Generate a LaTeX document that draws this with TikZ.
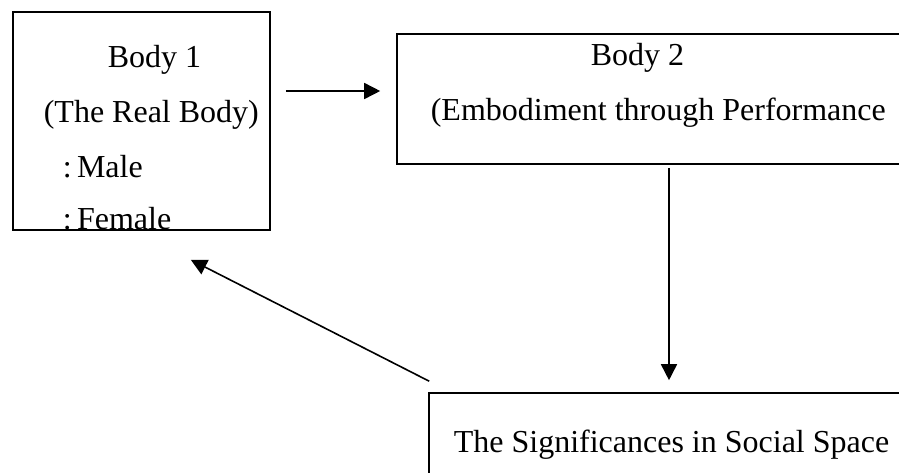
\documentclass[tikz,border=0pt]{standalone}
\usepackage{fontspec}
\setmainfont{Liberation Serif}
\usetikzlibrary{arrows.meta, calc}

\begin{document}
\begin{tikzpicture}[
    x=0.75pt, y=-0.75pt,
    line width=1.2pt,
    box/.style={draw, rectangle, inner sep=0pt},
    txt/.style={anchor=base west, inner sep=0pt, font=\fontsize{24}{28}\selectfont},
    arr/.style={-{Triangle[length=12pt, width=12pt]}}
]
    % Fix the page to the reference size.
    \useasboundingbox (0,0) rectangle (899,472);
    \clip (0,0) rectangle (899,472);

    % The three boxes (the right ones run off the page).
    \node[box, minimum width=192.75pt, minimum height=163.5pt] (body1) at (141.5,121) {};
    \node[box, minimum width=381pt, minimum height=97.5pt] (body2) at (651,99) {};
    \node[box, minimum width=357pt, minimum height=65.25pt] (space) at (667,436.5) {};

    % Texts of the boxes.
    \node[txt] (b1title) at (107,67) {Body 1};
    \node[txt] (b1sub) at (43,122) {(The Real Body)};
    \node[txt] (b1male) at (62,177) {:\,Male};
    \node[txt] (b1female) at (62,229) {:\,Female};
    \node[txt] (b2title) at (590,65) {Body 2};
    \node[txt] (b2sub) at (430,120) {(Embodiment through Performance};
    \node[txt] (spacetxt) at (453,452) {The Significances in Social Space};

    % Connectors.
    \coordinate (row) at (0,91);
    \coordinate (col) at (669,0);
    \draw[arr, shorten <=11.25pt, shorten >=12pt] (body1.east |- row) -- (body2.west |- row);
    \draw[arr, shorten <=2.25pt, shorten >=9pt] (body2.south -| col) -- (space.north -| col);
    \draw[arr] ($(space.north west)+(1,-11)$) -- ($(body1.south east)+(-80,29)$);
\end{tikzpicture}
\end{document}
